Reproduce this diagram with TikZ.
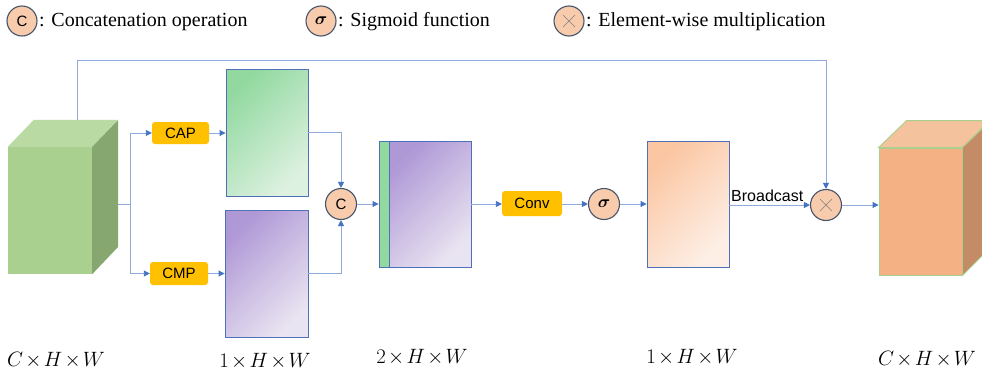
\documentclass[tikz,border=0pt]{standalone}
\usepackage{amsmath}
\usepackage{fontspec}
\setmainfont{Liberation Serif}
\newfontfamily\legserif{Liberation Serif}
\newfontfamily\uisans{Liberation Sans}
\usetikzlibrary{arrows.meta,calc}

\definecolor{linec}{HTML}{8FAADC}
\definecolor{tipc}{HTML}{4472C4}
\definecolor{edgec}{HTML}{4F6FB8}
\definecolor{opfill}{HTML}{F8CBAD}
\definecolor{opedge}{HTML}{44546A}
\definecolor{boxfill}{HTML}{FFC000}
\definecolor{gfront}{HTML}{A9D08E}
\definecolor{gtop}{HTML}{B9DAA3}
\definecolor{gside}{HTML}{86A870}
\definecolor{ofront}{HTML}{F4B183}
\definecolor{otop}{HTML}{F5C29E}
\definecolor{oside}{HTML}{C48C66}
\definecolor{ggA}{HTML}{92D9A0}
\definecolor{ggB}{HTML}{DDF1E0}
\definecolor{pgA}{HTML}{AF98D6}
\definecolor{pgB}{HTML}{E9E4F1}
\definecolor{ogA}{HTML}{FBC6A2}
\definecolor{ogB}{HTML}{FDEFE6}

% tighter multiplication sign for the tensor shapes
\newcommand{\dimx}{\mkern-2mu\times\mkern-2mu}

\tikzset{
  conn/.style={draw=linec, line width=0.9pt, -{Triangle[length=6pt,width=6pt,color=tipc]}},
  plain/.style={draw=linec, line width=0.9pt},
  opcircle/.style={circle, draw=opedge, line width=1.1pt, fill=opfill, minimum size=31pt, inner sep=0pt},
  legcircle/.style={circle, draw=opedge, line width=1.1pt, fill=opfill, minimum size=30pt, inner sep=0pt},
  optext/.style={font=\uisans\fontsize{15}{18}\selectfont},
  sigtext/.style={font=\fontsize{17}{20}\selectfont},
  opbox/.style={rounded corners=3pt, fill=boxfill, inner sep=0pt, font=\uisans\fontsize{15}{18}\selectfont},
  fmap/.style={draw=edgec, line width=0.9pt, inner sep=0pt},
  legtext/.style={anchor=west, inner sep=0pt, font=\legserif\fontsize{20}{24}\selectfont},
  dimlabel/.style={inner sep=0pt, font=\fontsize{19.5}{23}\selectfont},
}

\begin{document}
\begin{tikzpicture}[x=1pt, y=-1pt]
\useasboundingbox (0,0) rectangle (982,375);

% legend
\node[legcircle, optext] (lc) at (22,21) {C};
\node[legtext] (lct) at (39,22) {: Concatenation operation};
\node[legcircle, sigtext] (ls) at (321,21) {$\boldsymbol{\sigma}$};
\node[legtext] (lst) at (338,22) {: Sigmoid function};
\node[legcircle] (lm) at (569,21) {};
\draw[gray, line width=0.6pt] ($(lm)+(-6,-6)$) -- ($(lm)+(6,6)$) ($(lm)+(-6,6)$) -- ($(lm)+(6,-6)$);
\node[legtext] (lmt) at (586,22) {: Element-wise multiplication};

% input tensor (cuboid)
\node[fill=gfront, minimum width=84pt, minimum height=127pt, inner sep=0pt] (in) at (50,210.5) {};
\fill[gtop] (in.north west) -- ++(26,-27) -- ++(84,0) -- (in.north east) -- cycle;
\fill[gside] (in.north east) -- ++(26,-27) -- ++(0,127) -- (in.south east) -- cycle;
\coordinate (intop) at (77,120);
\coordinate (inright) at (118,204);
\coordinate (fork) at (130,204);

% pooling boxes
\node[opbox, minimum width=57pt, minimum height=22pt] (cap) at (180.5,133) {CAP};
\node[opbox, minimum width=58pt, minimum height=23pt] (cmp) at (179,273.5) {CMP};

% pooled maps
\node[fmap, top color=ggA, bottom color=ggB, shading angle=45, minimum width=82pt, minimum height=127pt] (gmap) at (267,132.5) {};
\node[fmap, top color=pgA, bottom color=pgB, shading angle=45, minimum width=83pt, minimum height=127pt] (pmap) at (266.5,273.5) {};

% concatenation
\node[opcircle, optext] (cat) at (341,204) {C};
\node[fmap, fill=ggA, minimum width=10pt, minimum height=126pt] (cstrip) at (384,204) {};
\node[fmap, top color=pgA, bottom color=pgB, shading angle=45, minimum width=82pt, minimum height=126pt] (cmap) at (430,204) {};

% conv + sigmoid
\node[opbox, minimum width=60pt, minimum height=25pt] (conv) at (532,203.5) {Conv};
\node[opcircle, sigtext] (sig) at (604,204) {$\boldsymbol{\sigma}$};
\node[fmap, top color=ogA, bottom color=ogB, shading angle=45, minimum width=82pt, minimum height=126pt] (att) at (688,204) {};

% multiplication
\node[opcircle] (mul) at (826,205) {};
\draw[gray, line width=0.6pt] ($(mul)+(-6,-6)$) -- ($(mul)+(6,6)$) ($(mul)+(-6,6)$) -- ($(mul)+(6,-6)$);

% output tensor (cuboid)
\node[draw=gfront, line width=0.9pt, fill=ofront, minimum width=83pt, minimum height=127pt, inner sep=0pt] (out) at (920.5,211.5) {};
\filldraw[draw=gfront, line width=0.9pt, fill=otop] (out.north west) -- ++(28,-27) -- ++(83,0) -- (out.north east) -- cycle;
\filldraw[draw=gfront, line width=0.9pt, fill=oside] (out.north east) -- ++(28,-27) -- ++(0,127) -- (out.south east) -- cycle;

% connectors
\draw[conn] (intop) -- (77,60) -| (mul.north);
\draw[plain] (inright) -- (fork);
\draw[conn] (fork) |- (cap.west);
\draw[conn] (fork) |- (cmp.west);
\draw[conn] (cap.east) -- (gmap.west |- cap.east);
\draw[conn] (cmp.east) -- (pmap.west |- cmp.east);
\draw[conn] (gmap.east) -| (cat.north);
\draw[conn] (pmap.east) -| (cat.south);
\draw[conn] (cat.east) -- (cstrip.west |- cat.east);
\draw[conn] (cmap.east) -- (conv.west |- cmap.east);
\draw[conn] (conv.east |- sig.west) -- (sig.west);
\draw[conn] (sig.east) -- (att.west |- sig.east);
\draw[conn] (att.east |- mul.west) -- (mul.west);
\node[anchor=south west, inner sep=0pt, font=\uisans\fontsize{16}{19}\selectfont] (bc) at (731,202) {Broadcast};
\draw[conn] (mul.east) -- (out.west |- mul.east);

% shape labels
\node[dimlabel] (d1) at (56,360) {$C\dimx H\dimx W$};
\node[dimlabel] (d2) at (265,361) {$1\dimx H\dimx W$};
\node[dimlabel] (d3) at (422,357.5) {$2\dimx H\dimx W$};
\node[dimlabel] (d4) at (692,357.5) {$1\dimx H\dimx W$};
\node[dimlabel] (d5) at (927,359.5) {$C\dimx H\dimx W$};
\end{tikzpicture}
\end{document}
